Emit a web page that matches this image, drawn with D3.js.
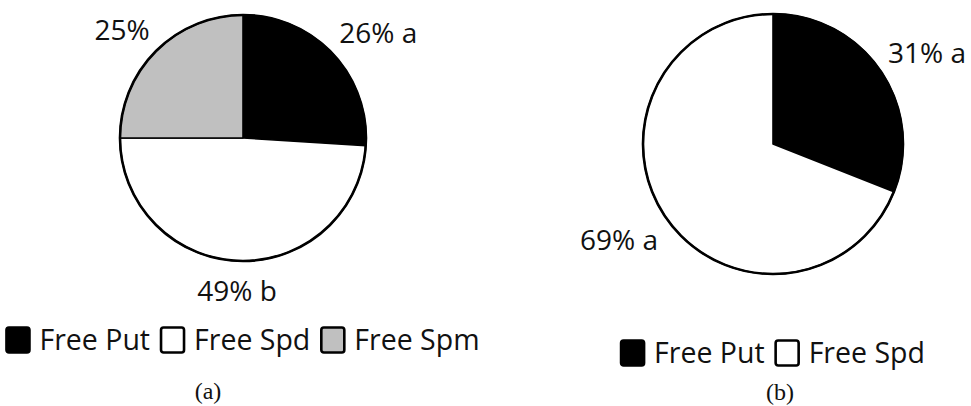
<!DOCTYPE html>
<html>
<head>
<meta charset="utf-8">
<script src="https://cdn.jsdelivr.net/npm/d3@7/dist/d3.min.js"></script>
<style>
  html, body { margin: 0; padding: 0; background: #fff; }
  svg { display: block; }
</style>
</head>
<body>
<svg id="chart" width="971" height="406"></svg>
<script>
// Panel (a): three fractions
const categoriesA = ["Free Put", "Free Spd", "Free Spm"];
const valuesA = [26, 49, 25];
const lettersA = ["a", "b", ""];

// Panel (b): two fractions
const categoriesB = ["Free Put", "Free Spd"];
const valuesB = [31, 69];
const lettersB = ["a", "a"];

const captions = ["(a)", "(b)"];

const fills = { "Free Put": "#000000", "Free Spd": "#ffffff", "Free Spm": "#c0c0c0" };

const svg = d3.select("#chart");
const LABEL_FONT = "'Open Sans', 'DejaVu Sans', sans-serif";

const panels = [
  { cats: categoriesA, vals: valuesA, letters: lettersA, caption: captions[0],
    cx: 243, cy: 138, r: 123, legendY: 340, captionX: 208, captionY: 399 },
  { cats: categoriesB, vals: valuesB, letters: lettersB, caption: captions[1],
    cx: 773, cy: 144, r: 130, legendY: 353, captionX: 780, captionY: 400 }
];

const pie = d3.pie().sort(null).value(d => d.value);

panels.forEach(p => {
  const data = p.cats.map((c, i) => ({ cat: c, value: p.vals[i], letter: p.letters[i] }));
  const arcs = pie(data);
  const arc = d3.arc().innerRadius(0).outerRadius(p.r);

  const g = svg.append("g").attr("transform", `translate(${p.cx},${p.cy})`);

  g.selectAll("path.slice")
    .data(arcs)
    .join("path")
    .attr("class", "slice")
    .attr("d", arc)
    .attr("fill", d => fills[d.data.cat])
    .attr("stroke", "#000")
    .attr("stroke-width", 1.6)
    .attr("stroke-linejoin", "round");

  g.append("circle")
    .attr("r", p.r)
    .attr("fill", "none")
    .attr("stroke", "#000")
    .attr("stroke-width", 2.6);

  // Outside-end value labels
  const gap = 9;
  g.selectAll("text.val")
    .data(arcs)
    .join("text")
    .attr("class", "val")
    .attr("font-family", LABEL_FONT)
    .attr("font-size", 28)
    .attr("fill", "#111")
    .attr("text-anchor", "middle")
    .text(d => d.data.value + "%" + (d.data.letter ? " " + d.data.letter : ""))
    .each(function(d) {
      const t = d3.select(this);
      const w = this.getComputedTextLength();
      const a = (d.startAngle + d.endAngle) / 2;
      const s = Math.sin(a), c = Math.cos(a);
      const h = c >= 0 ? 30 : 42;
      const ax = (p.r + gap) * s;
      const ay = -(p.r + gap) * c;
      const clamp = v => Math.max(-1, Math.min(1, v));
      const x = ax + (w / 2) * clamp(1.5 * s);
      const y = ay - (h / 2) * clamp(1.5 * c);
      t.attr("x", x).attr("y", y + 10);
    });

  // Legend, centred under the pie
  const lg = svg.append("g");
  const items = lg.selectAll("g.item")
    .data(data)
    .join("g")
    .attr("class", "item");

  const sq = 23, textGap = 10, itemGap = 11;
  items.append("rect")
    .attr("width", sq)
    .attr("height", 25)
    .attr("rx", 2.5)
    .attr("y", -12.5)
    .attr("fill", d => fills[d.cat])
    .attr("stroke", "#000")
    .attr("stroke-width", 2.6);

  items.append("text")
    .attr("x", sq + textGap)
    .attr("y", 9.5)
    .attr("font-family", LABEL_FONT)
    .attr("font-size", 28.5)
    .attr("fill", "#111")
    .text(d => d.cat);

  let xPos = 0;
  const offsets = [];
  items.each(function() {
    const tw = d3.select(this).select("text").node().getComputedTextLength();
    offsets.push(xPos);
    xPos += sq + textGap + tw + itemGap;
  });
  const total = xPos - itemGap;
  items.attr("transform", (d, i) => `translate(${offsets[i]},0)`);
  lg.attr("transform", `translate(${p.cx - total / 2},${p.legendY})`);

  svg.append("text")
    .attr("x", p.captionX)
    .attr("y", p.captionY)
    .attr("text-anchor", "middle")
    .attr("font-family", "'Liberation Serif', 'Times New Roman', serif")
    .attr("font-size", 24)
    .attr("fill", "#111")
    .text(p.caption);
});
</script>
</body>
</html>
